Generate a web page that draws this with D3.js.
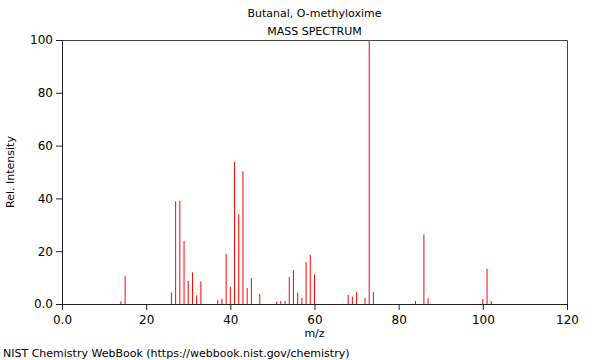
<!DOCTYPE html>
<html><head><meta charset="utf-8">
<script src="https://cdn.jsdelivr.net/npm/d3@7"></script>
<style>
body{margin:0;background:#fff;}
text{font-family:"DejaVu Sans",sans-serif;}
</style></head>
<body><svg id="c" width="600" height="360"></svg>
<script>
const title = "Butanal, O-methyloxime";
const subtitle = "MASS SPECTRUM";
const mz =        [14, 15, 26, 27, 28, 29, 30, 31, 32, 33, 37, 38, 39, 40, 41, 42, 43, 44, 45, 47, 51, 52, 53, 54, 55, 56, 57, 58, 59, 60, 68, 69, 70, 72, 73, 74, 84, 86, 87, 100, 101, 102];
const intensity = [1.0, 10.6, 4.3, 38.9, 39.1, 23.9, 8.7, 12.0, 3.3, 8.6, 1.5, 2.0, 19.0, 6.6, 53.8, 34.0, 50.3, 6.1, 9.8, 3.7, 0.9, 1.1, 1.1, 10.2, 12.9, 4.3, 2.3, 15.9, 18.6, 11.2, 3.5, 2.8, 4.5, 2.3, 100, 4.5, 1.1, 26.4, 2.2, 1.9, 13.3, 1.1];
const xTicks = [0, 20, 40, 60, 80, 100, 120];
const yTicks = [0, 20, 40, 60, 80, 100];

const svg = d3.select("#c");
const m = {l:62, r:567, t:40, b:304};
const x = d3.scaleLinear().domain([0,120]).range([m.l, m.r]);
const y = d3.scaleLinear().domain([0,100]).range([m.b, m.t]);
const axisColor = "#222";
const fmt = d => d===0 ? "0.0" : String(d);

// frame top/right
svg.append("path").attr("d", `M${m.l},${m.t+0.5}H${m.r+0.5}V${m.b}`)
  .attr("fill","none").attr("stroke","#444").attr("stroke-width",1);

// peaks
svg.append("g").selectAll("line").data(mz).join("line")
  .attr("x1", d=>x(d)).attr("x2", d=>x(d))
  .attr("y1", y(0)).attr("y2", (d,i)=>y(intensity[i]))
  .attr("stroke","#ff0000").attr("stroke-width",1);

// x axis
const gx = svg.append("g").attr("transform",`translate(0,${m.b})`);
gx.call(d3.axisBottom(x).tickValues(d3.range(0,121,5)).tickSize(3).tickFormat(""))
  .call(g=>g.select(".domain").remove());
gx.call(d3.axisBottom(x).tickValues(xTicks).tickSize(6).tickFormat(fmt));
gx.selectAll("line").attr("stroke",axisColor);
gx.selectAll(".domain").attr("stroke",axisColor);
gx.selectAll("text").attr("font-size",12).attr("fill","#000").attr("font-family","DejaVu Sans").attr("dy","0.9em");

// y axis
const gy = svg.append("g").attr("transform",`translate(${m.l},0)`);
gy.call(d3.axisLeft(y).tickValues(d3.range(0,101,5)).tickSize(3).tickFormat(""))
  .call(g=>g.select(".domain").remove());
gy.call(d3.axisLeft(y).tickValues(yTicks).tickSize(6).tickFormat(fmt));
gy.selectAll("line").attr("stroke",axisColor);
gy.selectAll(".domain").attr("stroke",axisColor);
gy.selectAll("text").attr("font-size",12).attr("fill","#000").attr("font-family","DejaVu Sans");

// titles
const cx = (m.l+m.r)/2;
svg.append("text").attr("x",cx).attr("y",17).attr("text-anchor","middle").attr("font-size",11).text(title);
svg.append("text").attr("x",cx).attr("y",35).attr("text-anchor","middle").attr("font-size",11).text(subtitle);
svg.append("text").attr("x",cx).attr("y",337).attr("text-anchor","middle").attr("font-size",11).text("m/z");
svg.append("text").attr("transform",`translate(14,${(m.t+m.b)/2}) rotate(-90)`).attr("text-anchor","middle").attr("font-size",11).text("Rel. Intensity");
svg.append("text").attr("x",3).attr("y",357).attr("font-size",11).text("NIST Chemistry WebBook (https://webbook.nist.gov/chemistry)");
</script></body></html>
